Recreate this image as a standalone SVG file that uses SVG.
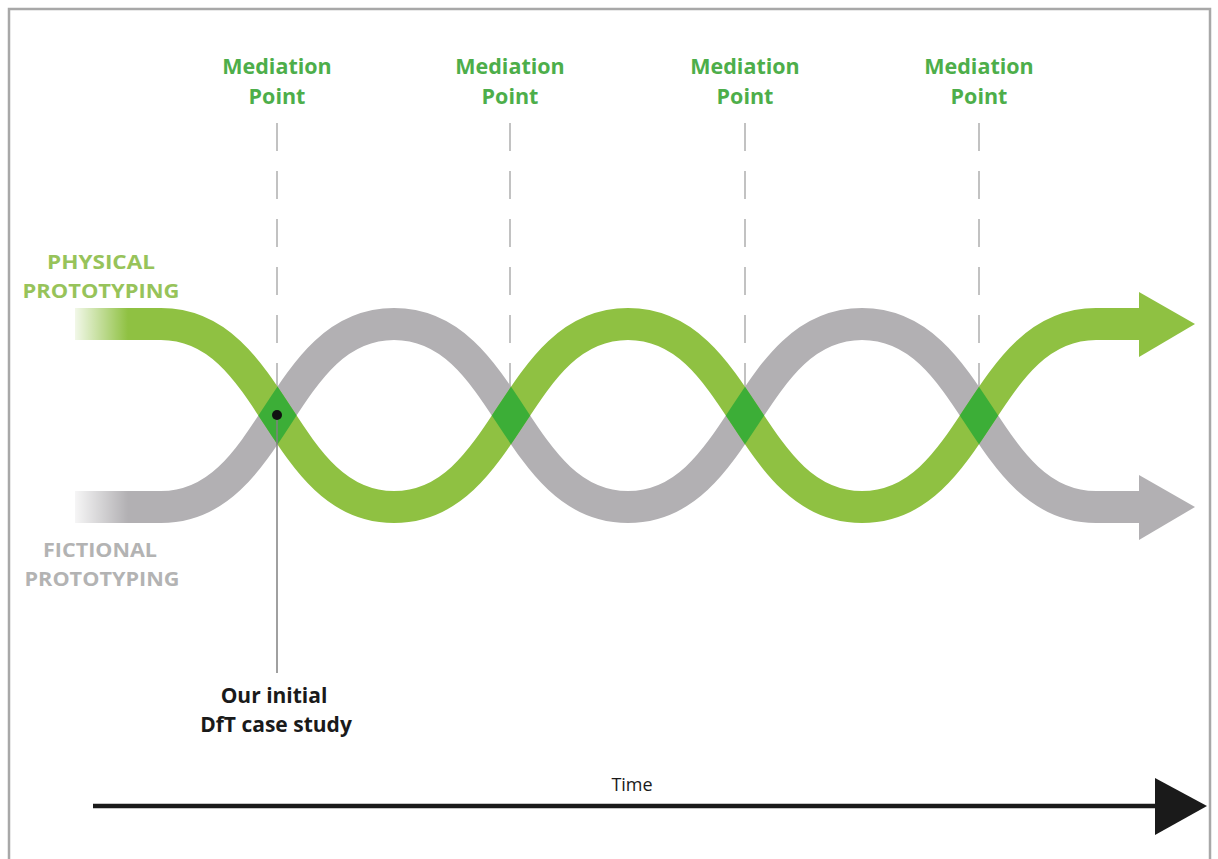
<svg xmlns="http://www.w3.org/2000/svg" width="1218" height="859" viewBox="0 0 1218 859">
  <style>
    .mp { font-family: "Open Sans", "Liberation Sans", sans-serif; font-weight: bold; font-size: 21.5px; fill: #4dae4a; text-anchor: middle; }
    .phys { font-family: "Open Sans", "Liberation Sans", sans-serif; font-weight: bold; font-size: 19px; fill: #97c35a; text-anchor: middle; }
    .fict { font-family: "Open Sans", "Liberation Sans", sans-serif; font-weight: bold; font-size: 19px; fill: #b3b3b3; text-anchor: middle; }
    .note { font-family: "Open Sans", "Liberation Sans", sans-serif; font-weight: bold; font-size: 21px; fill: #1a1a1a; text-anchor: middle; }
    .time { font-family: "Open Sans", "Liberation Sans", sans-serif; font-size: 18px; fill: #1a1a1a; text-anchor: middle; }
    .dash { stroke: #9a9a9a; stroke-width: 1.2; stroke-dasharray: 28 20; fill: none; }
    .band { fill: none; stroke-width: 32; stroke-linecap: butt; }
  </style>
  <defs>
    <linearGradient id="fade" x1="0" y1="0" x2="1" y2="0">
      <stop offset="0" stop-color="#ffffff" stop-opacity="0.9"/>
      <stop offset="1" stop-color="#ffffff" stop-opacity="0"/>
    </linearGradient>
    <mask id="grayMask" maskUnits="userSpaceOnUse" x="0" y="0" width="1218" height="859">
      <path d="M 75,507 H 161 C 275,507 280,324 394,324 C 508,324 514,507 628,507 C 742,507 748,324 862,324 C 976,324 982,507 1096,507 H 1142" fill="none" stroke="#ffffff" stroke-width="32"/>
    </mask>
  </defs>
  <rect x="0" y="0" width="1218" height="859" fill="#ffffff"/>
  <rect id="frame" x="9" y="9" width="1201" height="880" fill="none" stroke="#a8a8a8" stroke-width="2.5"/>

  <g id="connectors">
    <line class="dash" x1="277" y1="123" x2="277" y2="400"/>
    <line class="dash" x1="510" y1="123" x2="510" y2="400"/>
    <line class="dash" x1="745" y1="123" x2="745" y2="400"/>
    <line class="dash" x1="979" y1="123" x2="979" y2="400"/>
  </g>

  <g id="fictional-band">
    <path class="band" stroke="#b2b0b3" d="M 75,507 H 161 C 275,507 280,324 394,324 C 508,324 514,507 628,507 C 742,507 748,324 862,324 C 976,324 982,507 1096,507 H 1142"/>
    <polygon points="1139,475 1195,507 1139,540" fill="#b2b0b3"/>
    <rect x="74" y="489" width="54" height="36" fill="url(#fade)"/>
  </g>
  <g id="physical-band">
    <path class="band" stroke="#8fc142" d="M 75,324 H 161 C 275,324 280,507 394,507 C 508,507 514,324 628,324 C 742,324 748,507 862,507 C 976,507 982,324 1096,324 H 1142"/>
    <polygon points="1139,292 1195,324 1139,357" fill="#8fc142"/>
    <rect x="74" y="306" width="54" height="36" fill="url(#fade)"/>
  </g>
  <g id="mediation-overlaps">
    <path class="band" stroke="#3cae37" mask="url(#grayMask)" d="M 75,324 H 161 C 275,324 280,507 394,507 C 508,507 514,324 628,324 C 742,324 748,507 862,507 C 976,507 982,324 1096,324 H 1142"/>
  </g>

  <g id="case-study-marker">
    <line x1="277" y1="415" x2="277" y2="673" stroke="#808080" stroke-width="1.5"/>
    <circle cx="277" cy="415" r="5" fill="#111111"/>
  </g>

  <g id="mp1"><text class="mp" x="277" y="74">Mediation</text><text class="mp" x="277" y="104">Point</text></g>
  <g id="mp2"><text class="mp" x="510" y="74">Mediation</text><text class="mp" x="510" y="104">Point</text></g>
  <g id="mp3"><text class="mp" x="745" y="74">Mediation</text><text class="mp" x="745" y="104">Point</text></g>
  <g id="mp4"><text class="mp" x="979" y="74">Mediation</text><text class="mp" x="979" y="104">Point</text></g>

  <g id="physical-label">
    <text class="phys" x="101" y="269" textLength="108" lengthAdjust="spacingAndGlyphs">PHYSICAL</text>
    <text class="phys" x="101" y="298" textLength="157" lengthAdjust="spacingAndGlyphs">PROTOTYPING</text>
  </g>
  <g id="fictional-label">
    <text class="fict" x="100" y="557" textLength="114" lengthAdjust="spacingAndGlyphs">FICTIONAL</text>
    <text class="fict" x="102" y="586" textLength="155" lengthAdjust="spacingAndGlyphs">PROTOTYPING</text>
  </g>
  <g id="case-study-label">
    <text class="note" x="274" y="703">Our initial</text>
    <text class="note" x="276" y="732">DfT case study</text>
  </g>

  <g id="time-axis">
    <line x1="93" y1="806" x2="1160" y2="806" stroke="#1a1a1a" stroke-width="4.5"/>
    <polygon points="1155,778 1207,806 1155,835" fill="#1a1a1a"/>
    <text class="time" x="632" y="791">Time</text>
  </g>
</svg>
